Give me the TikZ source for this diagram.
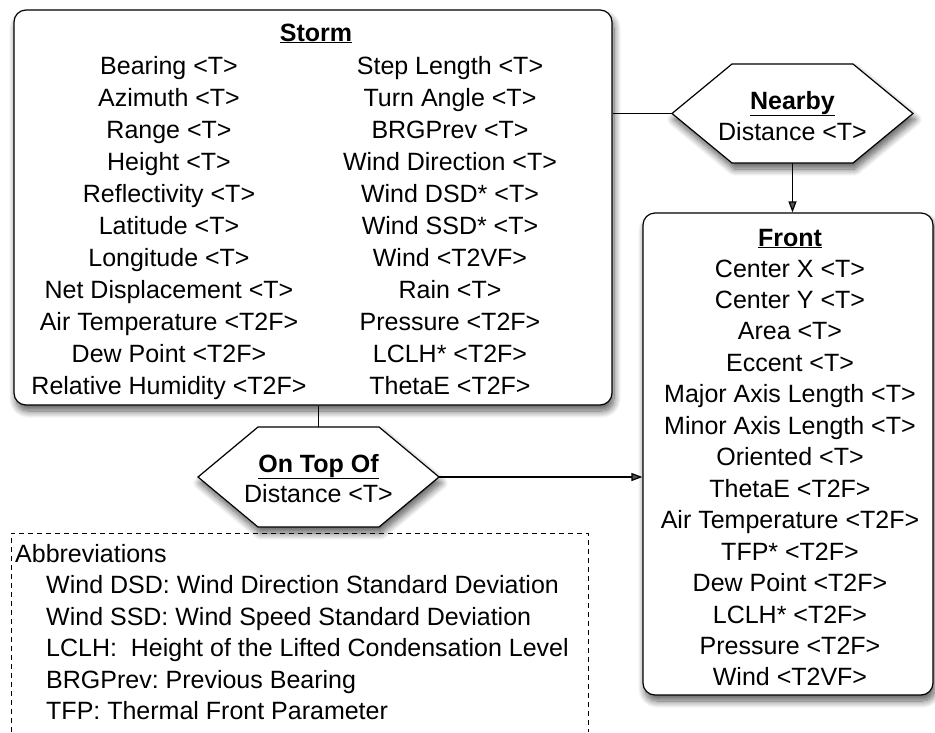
\documentclass[tikz,border=0pt]{standalone}
\usepackage{fontspec}
\setmainfont{Liberation Sans}
\usetikzlibrary{shadows,shadows.blur,arrows.meta}
\frenchspacing
\tikzset{
  shad/.style={blur shadow={shadow xshift=2pt, shadow yshift=-6pt, shadow blur radius=7pt, shadow opacity=65, shadow blur steps=10}},
  box/.style={draw=black, line width=1.2pt, rounded corners=12pt, fill=white, shad, inner sep=0pt},
  hexframe/.style={inner sep=0pt, outer sep=0pt},
  hexpath/.style={draw=black, line width=1.2pt, fill=white, shad},
  txt/.style={anchor=base, inner sep=0pt, font=\fontsize{25}{30}\selectfont},
  ltxt/.style={txt, anchor=base west},
  link/.style={line width=1.2pt},
  arr/.style={link, -{Triangle[length=11pt,width=8pt]}},
  abbr/.style={draw, line width=0.9pt, dash pattern=on 5pt off 4pt}
}
\begin{document}
\begin{tikzpicture}[x=1pt,y=-1pt]
\useasboundingbox (0,0) rectangle (935,732);
% Storm box
\node[box, minimum width=598pt, minimum height=395pt] (storm) at (313,207.5) {};
\node[txt] (stormtitle) at (316,41) {\underline{\textbf{Storm}}};
\foreach \t [count=\i] in {Bearing <T>, Azimuth <T>, Range <T>, Height <T>, Reflectivity <T>, Latitude <T>, Longitude <T>, Net Displacement <T>, Air Temperature <T2F>, Dew Point <T2F>, Relative Humidity <T2F>}
  \node[txt] (sl\i) at (169,{74+32*(\i-1)}) {\t};
\foreach \t [count=\i] in {Step Length <T>, Turn Angle <T>, BRGPrev <T>, Wind Direction <T>, Wind DSD* <T>, Wind SSD* <T>, Wind <T2VF>, Rain <T>, Pressure <T2F>, LCLH* <T2F>, ThetaE <T2F>}
  \node[txt] (sr\i) at (450,{74+32*(\i-1)}) {\t};
% Front box
\node[box, minimum width=290pt, minimum height=482pt] (front) at (788,454) {};
\node[txt] (fronttitle) at (790,246) {\underline{\textbf{Front}}};
\foreach \t [count=\i] in {Center X <T>, Center Y <T>, Area <T>, Eccent <T>, Major Axis Length <T>, Minor Axis Length <T>, Oriented <T>, ThetaE <T2F>, Air Temperature <T2F>, TFP* <T2F>, Dew Point <T2F>, LCLH* <T2F>, Pressure <T2F>, Wind <T2VF>}
  \node[txt] (f\i) at (790,{277+31.46*(\i-1)}) {\t};
% Nearby hexagon
\node[hexframe, minimum width=241pt, minimum height=99pt] (nearby) at (792.5,113.5) {};
\path[hexpath] (nearby.west) -- ([xshift=60pt]nearby.north west) -- ([xshift=-60pt]nearby.north east) -- (nearby.east) -- ([xshift=-60pt]nearby.south east) -- ([xshift=60pt]nearby.south west) -- cycle;
\node[txt] (nearbytitle) at (792.5,109) {\underline{\textbf{Nearby}}};
\node[txt] (nearbytext) at (792.5,140) {Distance <T>};
% On Top Of hexagon
\node[hexframe, minimum width=241pt, minimum height=100pt] (ontop) at (318.5,477) {};
\path[hexpath] (ontop.west) -- ([xshift=60pt]ontop.north west) -- ([xshift=-60pt]ontop.north east) -- (ontop.east) -- ([xshift=-60pt]ontop.south east) -- ([xshift=60pt]ontop.south west) -- cycle;
\node[txt] (ontoptitle) at (318.5,472) {\underline{\textbf{On Top Of}}};
\node[txt] (ontoptext) at (318.5,502) {Distance <T>};
% connectors
\draw[link] (storm.east |- nearby.west) -- (nearby.west);
\draw[arr] (nearby.south) -- (nearby.south |- front.north);
\draw[link] (storm.south -| ontop.north) -- (ontop.north);
\draw[arr] (ontop.east) -- (ontop.east -| front.west);
% Abbreviations
\coordinate (abBL) at (11,732);
\coordinate (abTL) at (11,533);
\coordinate (abTR) at (588,533);
\coordinate (abBR) at (588,732);
\draw[abbr] (abBL) -- (abTL) -- (abTR) -- (abBR);
\node[ltxt] (abtitle) at (15,562) {Abbreviations};
\foreach \t [count=\i] in {Wind DSD: Wind Direction Standard Deviation, Wind SSD: Wind Speed Standard Deviation, LCLH:~ Height of the Lifted Condensation Level, BRGPrev: Previous Bearing, TFP: Thermal Front Parameter}
  \node[ltxt] (ab\i) at (46,{593.5+31.6*(\i-1)}) {\t};
\end{tikzpicture}
\end{document}
